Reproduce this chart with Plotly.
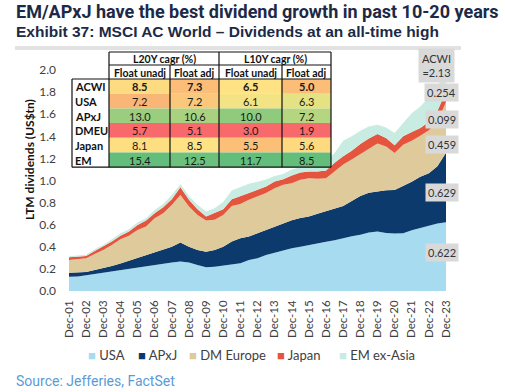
import pandas as pd
import plotly.graph_objects as go

# ---------------- data ----------------
dates = pd.date_range("2001-12-01", "2023-12-01", freq="6MS")

usa = [0.130, 0.132, 0.142, 0.154, 0.160, 0.172, 0.184, 0.196, 0.208, 0.220,
       0.235, 0.245, 0.257, 0.266, 0.257, 0.235, 0.214, 0.220, 0.232, 0.245,
       0.251, 0.281, 0.296, 0.326, 0.347, 0.371, 0.387, 0.400, 0.417, 0.430,
       0.445, 0.460, 0.480, 0.495, 0.510, 0.530, 0.538, 0.525, 0.520, 0.523,
       0.550, 0.570, 0.595, 0.610, 0.622]
apxj = [0.036, 0.036, 0.030, 0.036, 0.045, 0.054, 0.066, 0.079, 0.094, 0.106,
        0.121, 0.132, 0.144, 0.172, 0.144, 0.137, 0.142, 0.152, 0.169, 0.202,
        0.227, 0.212, 0.227, 0.227, 0.236, 0.243, 0.253, 0.260, 0.258, 0.270,
        0.280, 0.285, 0.290, 0.320, 0.350, 0.360, 0.362, 0.387, 0.395, 0.427,
        0.440, 0.465, 0.470, 0.520, 0.629]
dm_europe = [0.115, 0.119, 0.124, 0.145, 0.167, 0.191, 0.218, 0.224, 0.251, 0.257,
             0.303, 0.327, 0.378, 0.432, 0.363, 0.317, 0.282, 0.272, 0.288, 0.323,
             0.310, 0.333, 0.333, 0.333, 0.348, 0.347, 0.336, 0.346, 0.345, 0.315,
             0.295, 0.335, 0.375, 0.375, 0.380, 0.400, 0.435, 0.395, 0.335, 0.374,
             0.370, 0.370, 0.390, 0.400, 0.459]
japan = [0.024, 0.023, 0.021, 0.027, 0.030, 0.030, 0.031, 0.039, 0.045, 0.055,
         0.045, 0.054, 0.051, 0.070, 0.061, 0.051, 0.036, 0.060, 0.051, 0.060,
         0.067, 0.060, 0.060, 0.060, 0.060, 0.051, 0.069, 0.067, 0.062, 0.067,
         0.070, 0.080, 0.075, 0.080, 0.090, 0.090, 0.085, 0.078, 0.070, 0.076,
         0.080, 0.070, 0.075, 0.100, 0.099]
em_ex_asia = [0.010, 0.010, 0.012, 0.016, 0.015, 0.021, 0.024, 0.021, 0.021, 0.021,
              0.030, 0.030, 0.040, 0.027, 0.035, 0.040, 0.045, 0.045, 0.065, 0.080,
              0.085, 0.084, 0.074, 0.064, 0.049, 0.048, 0.055, 0.047, 0.058, 0.068,
              0.090, 0.090, 0.140, 0.130, 0.120, 0.110, 0.085, 0.095, 0.110, 0.120,
              0.170, 0.195, 0.220, 0.200, 0.254]

series_names = ["USA", "APxJ", "DM Europe", "Japan", "EM ex-Asia"]
series_vals = [usa, apxj, dm_europe, japan, em_ex_asia]
series_colors = ["#a7dbef", "#0c3a6c", "#dfca9b", "#e5553d", "#c8ebe2"]

end_labels = ["0.622", "0.629", "0.459", "0.099", "0.254"]
acwi_total = "2.13"

y_ticks = [0.0, 0.2, 0.4, 0.6, 0.8, 1.0, 1.2, 1.4, 1.6, 1.8, 2.0]

table_rows = ["ACWI", "USA", "APxJ", "DMEU", "Japan", "EM"]
l20_unadj = [8.5, 7.2, 13.0, 5.7, 8.1, 15.4]
l20_adj = [7.3, 7.2, 10.6, 5.1, 8.5, 12.5]
l10_unadj = [6.5, 6.1, 10.0, 3.0, 5.5, 11.7]
l10_adj = [5.0, 6.3, 7.2, 1.9, 5.6, 8.5]
table_cols = [l20_unadj, l20_adj, l10_unadj, l10_adj]
group_headers = ["L20Y cagr (%)", "L10Y cagr (%)"]
sub_headers = ["Float unadj", "Float adj", "Float unadj", "Float adj"]

# heat-map style colours (per cell, columns x rows)
cell_colors = [
    ["#fddb80", "#f9b676", "#9acd7e", "#f8696b", "#fddf82", "#63be7b"],
    ["#fbbd78", "#fbc87b", "#a8d27f", "#f8696b", "#fee283", "#6cc17c"],
    ["#fee283", "#f4e385", "#8fca7d", "#f8696b", "#fbbf78", "#63be7b"],
    ["#fbbd78", "#e5e283", "#b5d680", "#f8696b", "#fed980", "#63be7b"],
]

# ---------------- layout geometry ----------------
W, H = 505, 392
ML, MR, MT, MB = 69, 59, 59, 101
PW, PH = W - ML - MR, H - MT - MB


def px(x):
    return (x - ML) / PW


def py(y):
    return (H - MB - y) / PH


FONT = "Lato"
TXT = "#404040"

fig = go.Figure()
for name, vals, col in zip(series_names, series_vals, series_colors):
    fig.add_trace(go.Scatter(
        x=dates, y=vals, name=name, stackgroup="one", mode="lines",
        line=dict(width=0, color=col), fillcolor=col, showlegend=False,
        hoverinfo="skip"))

# legend: one small legend per series, placed like the reference
legend_left = [93, 143, 194, 282, 344]
legend_layouts = {}
for i, (name, col, lx) in enumerate(zip(series_names, series_colors, legend_left)):
    lid = "legend" if i == 0 else f"legend{i + 1}"
    fig.add_trace(go.Scatter(
        x=[None], y=[None], mode="markers", legend=lid,
        name=f"<span style='color:{col}'>\u25A0</span> {name}",
        marker=dict(symbol="square", size=8, color="rgba(0,0,0,0)",
                    line=dict(width=0))))
    legend_layouts[lid] = dict(
        xref="paper", yref="paper", x=px(lx - 45), xanchor="left",
        y=py(355), yanchor="middle", bgcolor="rgba(0,0,0,0)",
        font=dict(family=FONT, size=13, color=TXT), itemwidth=30)

shapes = []
annotations = []


def note(x, y, text, size, color, family=FONT, xanchor="center", **kw):
    d = dict(xref="paper", yref="paper", x=x, y=y, text=text,
             showarrow=False, xanchor=xanchor, yanchor="middle",
             font=dict(family=family, size=size, color=color))
    d.update(kw)
    annotations.append(d)


# separator band under titles
shapes.append(dict(type="rect", xref="paper", yref="paper",
                   x0=px(15), x1=px(461), y0=py(50), y1=py(46),
                   fillcolor="#e2e2e2", line=dict(width=0), layer="above"))

# ---- table ----
col_edges = [72, 109, 170, 219, 282, 331]
hdr_top, hdr_mid, data_top = 52, 65, 79
row_h = 14.7
data_bot = data_top + row_h * len(table_rows)
TF = 10.5

shapes.append(dict(type="rect", xref="paper", yref="paper",
                   x0=px(col_edges[1]), x1=px(col_edges[-1]),
                   y0=py(data_top), y1=py(hdr_top),
                   fillcolor="white", line=dict(width=0)))
shapes.append(dict(type="rect", xref="paper", yref="paper",
                   x0=px(col_edges[0]), x1=px(col_edges[1]),
                   y0=py(data_bot), y1=py(data_top),
                   fillcolor="white", line=dict(width=0)))
for ci, colvals in enumerate(table_cols):
    for ri, v in enumerate(colvals):
        y0 = data_top + ri * row_h
        shapes.append(dict(type="rect", xref="paper", yref="paper",
                           x0=px(col_edges[ci + 1]), x1=px(col_edges[ci + 2]),
                           y0=py(y0 + row_h), y1=py(y0),
                           fillcolor=cell_colors[ci][ri], line=dict(width=0)))
        note(px((col_edges[ci + 1] + col_edges[ci + 2]) / 2),
             py(y0 + row_h / 2 + 0.5),
             (f"<b>{v:.1f}</b>" if ri == 0 else f"{v:.1f}"),
             11, "#1a1a1a", borderpad=0)
for ri, r in enumerate(table_rows):
    note(px(col_edges[0] + 1.5), py(data_top + ri * row_h + row_h / 2 + 0.5),
         f"<b>{r}</b>", 11, "#111111", xanchor="left", borderpad=0)
for gi, g in enumerate(group_headers):
    note(px((col_edges[1 + 2 * gi] + col_edges[3 + 2 * gi]) / 2),
         py((hdr_top + hdr_mid) / 2 + 0.5), f"<b>{g}</b>", TF, "#111111",
         borderpad=0)
for si, s in enumerate(sub_headers):
    note(px((col_edges[1 + si] + col_edges[2 + si]) / 2),
         py((hdr_mid + data_top) / 2 + 0.5), f"<b>{s}</b>", TF, "#111111",
         borderpad=0)

BL = dict(color="#111111", width=1.2)


def hline(y, xa, xb):
    shapes.append(dict(type="line", xref="paper", yref="paper",
                       x0=px(xa), x1=px(xb), y0=py(y), y1=py(y), line=BL))


def vline(x, ya, yb):
    shapes.append(dict(type="line", xref="paper", yref="paper",
                       x0=px(x), x1=px(x), y0=py(ya), y1=py(yb), line=BL))


hline(hdr_top, col_edges[1], col_edges[-1])
hline(hdr_mid, col_edges[1], col_edges[-1])
hline(data_top, col_edges[0], col_edges[-1])
hline(data_bot, col_edges[0], col_edges[-1])
vline(col_edges[0], data_top, data_bot)
vline(col_edges[1], hdr_top, data_bot)
vline(col_edges[2], hdr_mid, data_bot)
vline(col_edges[3], hdr_top, data_bot)
vline(col_edges[4], hdr_mid, data_bot)
vline(col_edges[5], hdr_top, data_bot)

# ---- end labels ----
label_y = [0.353, 0.896, 1.33, 1.556, 1.80]
for t, yv in zip(end_labels, label_y):
    annotations.append(dict(
        xref="paper", yref="y", x=px(441.5), y=yv, text=t, showarrow=False,
        xanchor="center", yanchor="middle",
        bgcolor="#d9d9d9", borderpad=2,
        font=dict(family=FONT, size=11, color="#333333")))
annotations.append(dict(
    xref="paper", yref="y", x=px(436), y=2.04,
    xanchor="center", yanchor="middle",
    text=f"ACWI<br>={acwi_total}", showarrow=False, bgcolor="#d9d9d9",
    borderpad=3, font=dict(family=FONT, size=11, color="#333333")))

# ---- titles & source ----
note(px(14), py(12),
     "<b>EM/APxJ have the best dividend growth in past 10-20 years</b>",
     18, "#1c2a47", family="Roboto", xanchor="left")
note(px(14), py(32),
     "<b>Exhibit 37: MSCI AC World \u2013 Dividends at an all-time high</b>",
     15.5, "#1c2a47", family="Liberation Sans", xanchor="left")
note(px(14), py(381), "Source: Jefferies, FactSet", 14, "#5b9bd5",
     family="Roboto", xanchor="left")
note(px(29), py(160), "<b>LTM dividends (US$tn)</b>", 12, "#111111",
     textangle=-90)

fig.update_layout(
    width=W, height=H,
    margin=dict(l=ML, r=MR, t=MT, b=MB, pad=0, autoexpand=False),
    paper_bgcolor="white", plot_bgcolor="white",
    shapes=shapes, annotations=annotations,
    showlegend=True,
    xaxis=dict(range=[dates[0], dates[-1]], showgrid=False, zeroline=False,
               showline=False, ticks="", tick0="2001-12-01", dtick="M12",
               tickformat="%b-%y", tickangle=-90, ticklabelstandoff=6,
               automargin=False,
               tickfont=dict(family=FONT, size=11.5, color=TXT)),
    yaxis=dict(range=[0, 2.1], tickmode="array", tickvals=y_ticks,
               ticktext=[f"{v:.1f}" for v in y_ticks],
               showgrid=False, zeroline=False,
               showline=False, ticks="", ticklabelstandoff=12,
               automargin=False,
               tickfont=dict(family=FONT, size=12, color=TXT)),
    **legend_layouts,
)

fig.write_html("out.html", config={"displayModeBar": False},
               post_script="document.body.style.margin='0';"
                           "document.body.style.padding='0';")
